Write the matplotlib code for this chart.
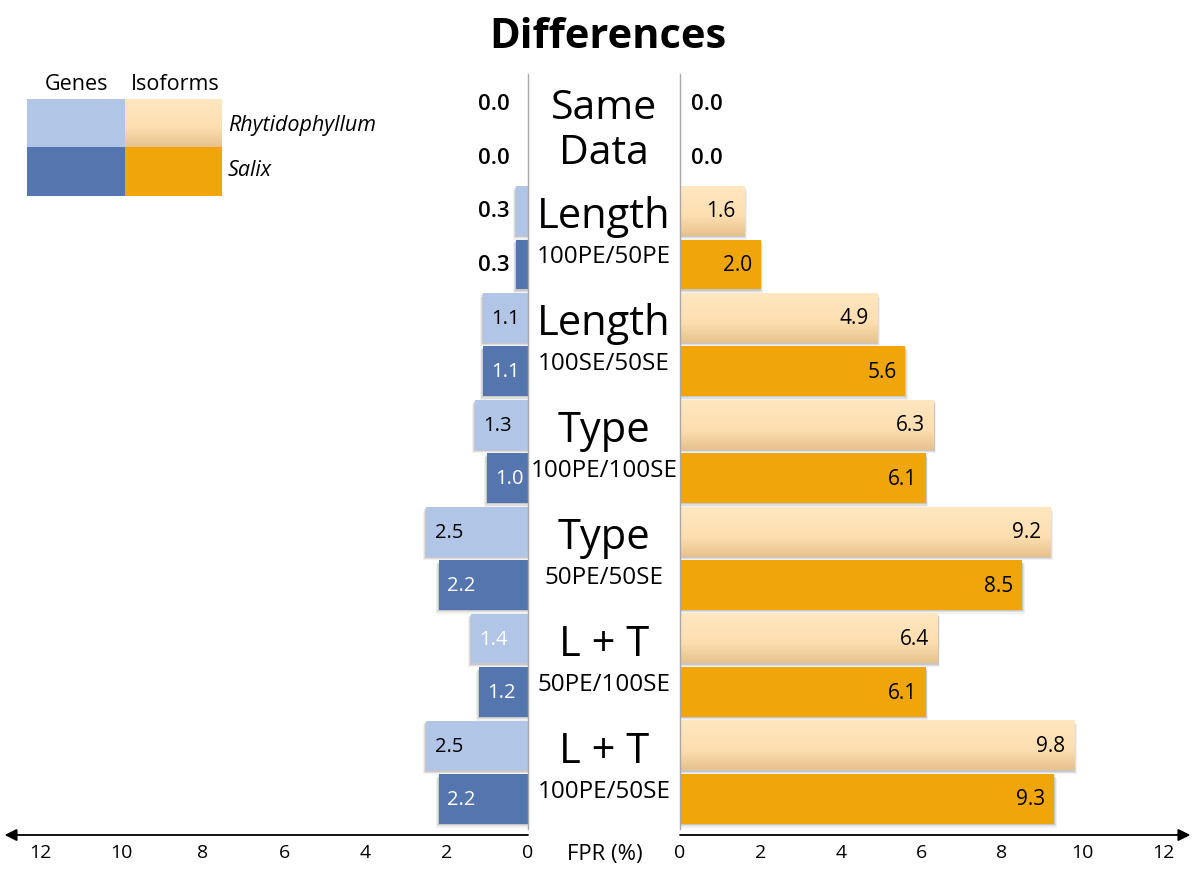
import matplotlib
matplotlib.use("Agg")
import matplotlib.pyplot as plt
import numpy as np
from matplotlib.patches import Rectangle
from matplotlib.colors import LinearSegmentedColormap

plt.rcParams['font.family'] = ['Open Sans', 'DejaVu Sans']

# ---------------- data ----------------
groups_main = ["Same", "Length", "Length", "Type", "Type", "L + T", "L + T"]
groups_sub = ["Data", "100PE/50PE", "100SE/50SE", "100PE/100SE", "50PE/50SE", "50PE/100SE", "100PE/50SE"]
genes_rhyt = [0.0, 0.3, 1.1, 1.3, 2.5, 1.4, 2.5]
genes_salix = [0.0, 0.3, 1.1, 1.0, 2.2, 1.2, 2.2]
iso_rhyt = [0.0, 1.6, 4.9, 6.3, 9.2, 6.4, 9.8]
iso_salix = [0.0, 2.0, 5.6, 6.1, 8.5, 6.1, 9.3]
ticks = [0, 2, 4, 6, 8, 10, 12]
genes_rhyt_white_label = [False, False, False, False, False, True, False]

C_LB = "#B1C5E7"
C_DB = "#5475AE"
C_OR = "#F0A60A"
grad_cmap = LinearSegmentedColormap.from_list(
    "lo", [(0.0, "#FFE7C0"), (0.6, "#FDDEB0"), (1.0, "#E6C28E")])

W, H = 1200, 870
fig = plt.figure(figsize=(12, 8.7), dpi=100)

def fx(px):
    return px / W

def fy(py):
    return 1 - py / H

top_px, bot_px = 75, 830
axL = fig.add_axes([fx(40), fy(bot_px), fx(528 - 40), (bot_px - top_px) / H])
axR = fig.add_axes([fx(680), fy(bot_px), fx(1163 - 680), (bot_px - top_px) / H])

row_px0, row_sp = 105, (800 - 105) / 13.0
ylo = 13 + (bot_px - 800) / row_sp
yhi = -(row_px0 - top_px) / row_sp
bh = 0.93
grad = np.linspace(0, 1, 64).reshape(-1, 1)

n = len(genes_rhyt)
for ax in (axL, axR):
    for s in ax.spines.values():
        s.set_visible(False)
    ax.set_yticks([])
    ax.set_xticks(ticks)
    ax.tick_params(axis='x', length=0, pad=10, labelsize=14)

axL.spines['right'].set_visible(True)
axL.spines['right'].set_color("#a8a8a8")
axL.spines['right'].set_linewidth(1.0)
axR.spines['left'].set_visible(True)
axR.spines['left'].set_color("#a8a8a8")
axR.spines['left'].set_linewidth(1.0)

def shadow(ax, x0, w, y, dx, dy):
    for k, a in [(1.0, 0.08), (0.65, 0.12), (0.35, 0.16)]:
        ax.add_patch(Rectangle((x0, y - bh / 2 + dy * k), w + dx * k, bh,
                               facecolor="#555555", alpha=a, edgecolor='none', zorder=1))

for i in range(n):
    yr = 2 * i
    ys = 2 * i + 1
    # left (genes)
    for v, y, col, white in [(genes_rhyt[i], yr, C_LB, genes_rhyt_white_label[i]),
                             (genes_salix[i], ys, C_DB, True)]:
        if v > 0:
            shadow(axL, 0, v, y, 0.07, 0.07)
            axL.add_patch(Rectangle((0, y - bh / 2), v, bh, facecolor=col,
                                    edgecolor='none', zorder=2))
        if v < 0.5:
            axL.text(0.85, y, f"{v:.1f}", ha='center', va='center', fontsize=16,
                     color="black", fontweight="semibold", zorder=5)
        else:
            axL.text(v - 0.55, y, f"{v:.1f}", ha='center', va='center', fontsize=14.5,
                     color=("white" if white else "black"), zorder=5)
    # right (isoforms)
    v = iso_rhyt[i]
    if v > 0:
        shadow(axR, 0, v, yr, 0.07, 0.07)
        axR.imshow(grad, extent=(0, v, yr + bh / 2, yr - bh / 2), aspect='auto',
                   cmap=grad_cmap, origin='upper', zorder=2, interpolation='bilinear')
    v2 = iso_salix[i]
    if v2 > 0:
        shadow(axR, 0, v2, ys, 0.07, 0.07)
        axR.add_patch(Rectangle((0, ys - bh / 2), v2, bh, facecolor=C_OR,
                                edgecolor='none', zorder=2))
    for val, y in [(v, yr), (v2, ys)]:
        if val > 0:
            axR.text(val - 0.22, y, f"{val:.1f}", ha='right', va='center',
                     fontsize=15, color='black', zorder=5)
        else:
            axR.text(0.28, y, f"{val:.1f}", ha='left', va='center',
                     fontsize=16, color='black', fontweight='semibold', zorder=5)

axL.set_xlim(12, 0)
axR.set_xlim(0, 12)
for ax in (axL, axR):
    ax.set_ylim(ylo, yhi)

# arrows
ya = -6 / (bot_px - top_px)
axL.annotate('', xy=(12.87, ya), xytext=(0, ya),
             xycoords=('data', 'axes fraction'), textcoords=('data', 'axes fraction'),
             arrowprops=dict(arrowstyle='-|>', color='black', lw=1.3,
                             mutation_scale=18, shrinkA=0, shrinkB=0),
             annotation_clip=False)
axR.annotate('', xy=(12.68, ya), xytext=(0, ya),
             xycoords=('data', 'axes fraction'), textcoords=('data', 'axes fraction'),
             arrowprops=dict(arrowstyle='-|>', color='black', lw=1.3,
                             mutation_scale=18, shrinkA=0, shrinkB=0),
             annotation_clip=False)

fig.text(fx(605), fy(855), "FPR (%)", ha='center', va='center', fontsize=16)

# center labels
cx = fx(604)
for i in range(n):
    yr_px = row_px0 + row_sp * (2 * i)
    ys_px = row_px0 + row_sp * (2 * i + 1)
    if i == 0:
        fig.text(cx, fy(yr_px + 4), groups_main[i], ha='center', va='center', fontsize=29.5)
        fig.text(cx, fy(ys_px - 5), groups_sub[i], ha='center', va='center', fontsize=29.5)
    else:
        fig.text(cx, fy(yr_px + 5), groups_main[i], ha='center', va='center', fontsize=30)
        fig.text(cx, fy(ys_px - 8), groups_sub[i], ha='center', va='center', fontsize=17.5)

fig.text(fx(608), fy(37), "Differences", ha='center', va='center',
         fontsize=30, fontweight='bold')

# legend
axLeg = fig.add_axes([0, 0, 1, 1], facecolor='none')
axLeg.axis('off')
axLeg.add_patch(Rectangle((27, 100), 98, 48, facecolor=C_LB, edgecolor='none'))
axLeg.add_patch(Rectangle((27, 148), 98, 49, facecolor=C_DB, edgecolor='none'))
axLeg.imshow(grad, extent=(125, 222, 148, 100), aspect='auto', cmap=grad_cmap,
             origin='upper', interpolation='bilinear')
axLeg.add_patch(Rectangle((125, 148), 97, 49, facecolor=C_OR, edgecolor='none'))
axLeg.set_xlim(0, W)
axLeg.set_ylim(H, 0)
axLeg.text(76, 84, "Genes", ha='center', va='center', fontsize=15.5)
axLeg.text(175, 84, "Isoforms", ha='center', va='center', fontsize=15.5)
axLeg.text(228, 126, "Rhytidophyllum", ha='left', va='center', fontsize=15.5, style='italic')
axLeg.text(228, 171, "Salix", ha='left', va='center', fontsize=15.5, style='italic')

fig.savefig("out.png", dpi=100)
